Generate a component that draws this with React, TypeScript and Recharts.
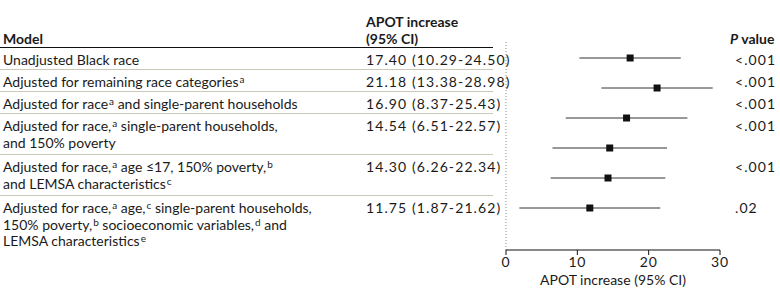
import { ScatterChart, Scatter, XAxis, YAxis, ErrorBar, ReferenceLine, Label } from 'recharts'

const models = [
  ['Unadjusted Black race'],
  ['Adjusted for remaining race categories^a'],
  ['Adjusted for race^a and single-parent households'],
  ['Adjusted for race,^a single-parent households,', 'and 150% poverty'],
  ['Adjusted for race,^a age ≤17, 150% poverty,^b', 'and LEMSA characteristics^c'],
  ['Adjusted for race,^a age,^c single-parent households,', '150% poverty,^b socioeconomic variables,^d and', 'LEMSA characteristics^e'],
]
const estimates = [17.4, 21.18, 16.9, 14.54, 14.3, 11.75]
const lower = [10.29, 13.38, 8.37, 6.51, 6.26, 1.87]
const upper = [24.5, 28.98, 25.43, 22.57, 22.34, 21.62]
const pValues = ['<.001', '<.001', '<.001', '<.001', '<.001', '.02']
const xTicks = [0, 10, 20, 30]

const FONT = 'Lato, "Noto Sans", sans-serif'
const INK = '#1a1a1a'

const data = estimates.map((est, i) => ({
  row: i,
  est,
  err: [est - lower[i], upper[i] - est],
}))

// "race,^a" -> race, + superscript a
function RichLine({ text }: { text: string }) {
  const parts = text.split(/\^(\w)/)
  return (
    <div style={{ whiteSpace: 'nowrap' }}>
      {parts.map((p, i) =>
        i % 2 === 1
          ? <span key={i} style={{ fontSize: 10, lineHeight: '10px', verticalAlign: '4px', marginLeft: 1 }}>{p}</span>
          : <span key={i}>{p}</span>
      )}
    </div>
  )
}

const Square = (props: any) => {
  const { cx, cy } = props
  return <rect x={cx - 3.5} y={cy - 3.5} width={7} height={7} fill="#111" />
}

const numStyle = { letterSpacing: '1.1px', whiteSpace: 'nowrap' as const }

export default function App() {
  return (
    <div style={{ position: 'absolute', left: 0, top: 0, width: 780, height: 303, background: '#fff', fontFamily: FONT, color: INK, fontSize: 14 }}>
      <div style={{ position: 'absolute', left: 0, top: 0 }}>
        <ScatterChart width={780} height={303} margin={{ top: 40, right: 60, left: 506, bottom: 0 }}>
          <XAxis type="number" dataKey="est" domain={[0, 30]} ticks={xTicks} height={53}
            tickSize={5} stroke="#111" tick={{ fontSize: 14, fill: INK, fontFamily: FONT, letterSpacing: 0.8 }}>
            <Label value="APOT increase (95% CI)" position="insideBottom" offset={18}
              style={{ fontSize: 14, fill: INK, fontFamily: FONT }} />
          </XAxis>
          <YAxis type="number" dataKey="row" domain={[-0.6, 6.4]} reversed hide />
          <ReferenceLine x={0} stroke="#888" strokeDasharray="1 2" ifOverflow="extendDomain" />
          <Scatter data={data} shape={Square} isAnimationActive={false}>
            <ErrorBar dataKey="err" direction="x" width={0} stroke="#333" strokeWidth={1} />
          </Scatter>
        </ScatterChart>
      </div>

      {/* table */}
      <div style={{ position: 'absolute', left: 0, top: 0, width: 780, lineHeight: '16.5px', pointerEvents: 'none' }}>
        <div style={{ position: 'relative', height: 47 }}>
          <div style={{ position: 'absolute', left: 3, bottom: 0, fontWeight: 700 }}>Model</div>
          <div style={{ position: 'absolute', left: 366, bottom: 0, fontWeight: 700, whiteSpace: 'nowrap' }}>
            <div>APOT increase</div>
            <div>(95% CI)</div>
          </div>
          <div style={{ position: 'absolute', left: 730, bottom: 0, fontWeight: 700, whiteSpace: 'nowrap' }}>
            <i>P</i> value
          </div>
        </div>
        <div style={{ width: 493, borderTop: '1.5px solid #111' }} />
        {models.map((lines, i) => (
          <div key={i} style={{ position: 'relative', width: 493,
            padding: `4px 0 ${lines.length > 1 ? 3 : 0.5}px`,
            borderBottom: i < models.length - 1 ? '1px solid #cbc8b8' : '1px solid transparent' }}>
            <div style={{ marginLeft: 3 }}>
              {lines.map((l, j) => <RichLine key={j} text={l} />)}
            </div>
            <div style={{ position: 'absolute', left: 366, top: 4, ...numStyle }}>
              {`${estimates[i].toFixed(2)} (${lower[i].toFixed(2)}-${upper[i].toFixed(2)})`}
            </div>
            <div style={{ position: 'absolute', left: 735, top: 4, ...numStyle }}>{pValues[i]}</div>
          </div>
        ))}
      </div>
    </div>
  )
}
